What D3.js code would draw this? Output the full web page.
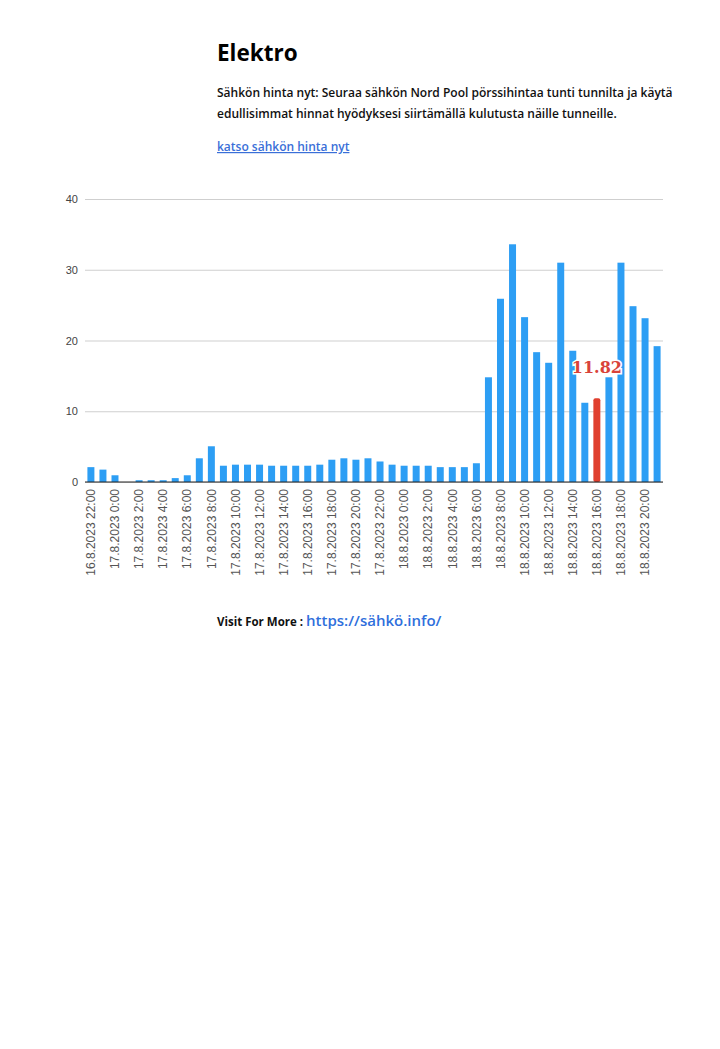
<!DOCTYPE html>
<html>
<head>
<meta charset="utf-8">
<script src="https://cdn.jsdelivr.net/npm/d3@7"></script>
<style>
  html, body { margin: 0; padding: 0; background: #fff; }
</style>
</head>
<body>
<div id="root"></div>
<script>
// hourly prices, 16.8.2023 22:00 -> 18.8.2023 21:00
const hours = [
  "16.8.2023 22:00", "16.8.2023 23:00",
  "17.8.2023 0:00", "17.8.2023 1:00", "17.8.2023 2:00", "17.8.2023 3:00",
  "17.8.2023 4:00", "17.8.2023 5:00", "17.8.2023 6:00", "17.8.2023 7:00",
  "17.8.2023 8:00", "17.8.2023 9:00", "17.8.2023 10:00", "17.8.2023 11:00",
  "17.8.2023 12:00", "17.8.2023 13:00", "17.8.2023 14:00", "17.8.2023 15:00",
  "17.8.2023 16:00", "17.8.2023 17:00", "17.8.2023 18:00", "17.8.2023 19:00",
  "17.8.2023 20:00", "17.8.2023 21:00", "17.8.2023 22:00", "17.8.2023 23:00",
  "18.8.2023 0:00", "18.8.2023 1:00", "18.8.2023 2:00", "18.8.2023 3:00",
  "18.8.2023 4:00", "18.8.2023 5:00", "18.8.2023 6:00", "18.8.2023 7:00",
  "18.8.2023 8:00", "18.8.2023 9:00", "18.8.2023 10:00", "18.8.2023 11:00",
  "18.8.2023 12:00", "18.8.2023 13:00", "18.8.2023 14:00", "18.8.2023 15:00",
  "18.8.2023 16:00", "18.8.2023 17:00", "18.8.2023 18:00", "18.8.2023 19:00",
  "18.8.2023 20:00", "18.8.2023 21:00"
];
const prices = [
  2.1, 1.75,
  0.95, 0, 0.25, 0.25, 0.25, 0.55, 0.95, 3.35, 5.05, 2.3, 2.45, 2.45,
  2.45, 2.3, 2.3, 2.3, 2.3, 2.45, 3.15, 3.35, 3.15, 3.35, 2.9, 2.45,
  2.3, 2.3, 2.3, 2.1, 2.1, 2.1, 2.65, 14.8, 25.9, 33.6, 23.3, 18.35,
  16.85, 31.0, 18.55, 11.2, 11.82, 14.8, 31.0, 24.85, 23.15, 19.2
];
const yTicks = [0, 10, 20, 30, 40];
const currentHour = "18.8.2023 16:00";
const tickEvery = 2;

const width = 720, height = 1049;
const margins = { top: 199, right: 57, bottom: 567, left: 85 };

const svg = d3.select("#root").append("svg")
  .attr("width", width)
  .attr("height", height)
  .attr("viewBox", [0, 0, width, height])
  .style("font-family", "'Open Sans', sans-serif");

// header text
svg.append("text")
  .attr("x", 217).attr("y", 61)
  .attr("font-size", 22.5).attr("font-weight", 700).attr("fill", "#000")
  .text("Elektro");

const intro = [
  "Sähkön hinta nyt: Seuraa sähkön Nord Pool pörssihintaa tunti tunnilta ja käytä",
  "edullisimmat hinnat hyödyksesi siirtämällä kulutusta näille tunneille."
];
svg.append("g").selectAll("text")
  .data(intro)
  .join("text")
  .attr("x", 217)
  .attr("y", (d, i) => 97 + i * 21)
  .attr("font-size", 12)
  .attr("font-weight", 600)
  .attr("fill", "#111")
  .text((d) => d);

svg.append("text")
  .attr("x", 217).attr("y", 151)
  .attr("font-size", 12).attr("font-weight", 600)
  .attr("fill", "#3a6fd8")
  .attr("text-decoration", "underline")
  .text("katso sähkön hinta nyt");

// chart
const plotW = width - margins.left - margins.right;
const plotH = height - margins.top - margins.bottom;

const x = d3.scaleBand()
  .domain(hours)
  .range([0, plotW])
  .paddingInner(0.42)
  .paddingOuter(0.2);

const y = d3.scaleLinear().domain([0, 40]).range([plotH, 0]);

const g = svg.append("g")
  .attr("transform", `translate(${margins.left}, ${margins.top})`);

const yAxis = d3.axisLeft(y).tickValues(yTicks).tickSize(-plotW).tickPadding(7);
g.append("g")
  .attr("id", "yAxis")
  .call(yAxis)
  .call((s) => s.select(".domain").remove())
  .call((s) => s.selectAll(".tick line").attr("stroke", "#cfcfcf"))
  .call((s) => s.selectAll(".tick text")
    .attr("fill", "#444")
    .style("font-family", "'Liberation Sans', Arial, sans-serif")
    .style("font-size", "11px"));

g.append("g")
  .attr("id", "bars")
  .selectAll("rect")
  .data(hours)
  .join("rect")
  .attr("x", (d) => x(d))
  .attr("y", (d, i) => y(prices[i]))
  .attr("width", x.bandwidth())
  .attr("height", (d, i) => plotH - y(prices[i]))
  .attr("rx", (d) => (d === currentHour ? 2 : 0))
  .attr("fill", (d) => (d === currentHour ? "#e0402f" : "#2d9ef4"));

const xAxis = d3.axisBottom(x)
  .tickValues(hours.filter((d, i) => i % tickEvery === 0))
  .tickSize(0)
  .tickPadding(0);
g.append("g")
  .attr("id", "xAxis")
  .attr("transform", `translate(0, ${plotH})`)
  .call(xAxis)
  .call((s) => s.select(".domain").remove())
  .call((s) => s.selectAll(".tick text")
    .attr("transform", "rotate(-90)")
    .attr("x", -7)
    .attr("y", 0)
    .attr("dy", "0.35em")
    .attr("text-anchor", "end")
    .attr("fill", "#555")
    .style("font-family", "'Liberation Sans', Arial, sans-serif")
    .style("font-size", "12px"));

// baseline
g.append("line")
  .attr("x1", 0).attr("x2", plotW)
  .attr("y1", y(0)).attr("y2", y(0))
  .attr("stroke", "#222").attr("stroke-width", 1.2);

// value label on current hour
const ci = hours.indexOf(currentHour);
g.append("text")
  .attr("x", x(currentHour) + x.bandwidth() / 2)
  .attr("y", y(prices[ci]) - 25)
  .attr("text-anchor", "middle")
  .attr("font-family", "'DejaVu Serif', serif")
  .attr("font-weight", 700)
  .attr("font-size", 16)
  .attr("fill", "#d9433a")
  .attr("stroke", "#fff")
  .attr("stroke-width", 3)
  .attr("paint-order", "stroke")
  .text(prices[ci].toFixed(2));

// footer
const foot = svg.append("text").attr("x", 217).attr("y", 626);
foot.append("tspan")
  .attr("font-size", 11.5).attr("font-weight", 700).attr("fill", "#111")
  .text("Visit For More : ");
foot.append("tspan")
  .attr("font-size", 15).attr("font-weight", 600).attr("fill", "#2f6fdc")
  .text("https://sähkö.info/");
</script>
</body>
</html>
